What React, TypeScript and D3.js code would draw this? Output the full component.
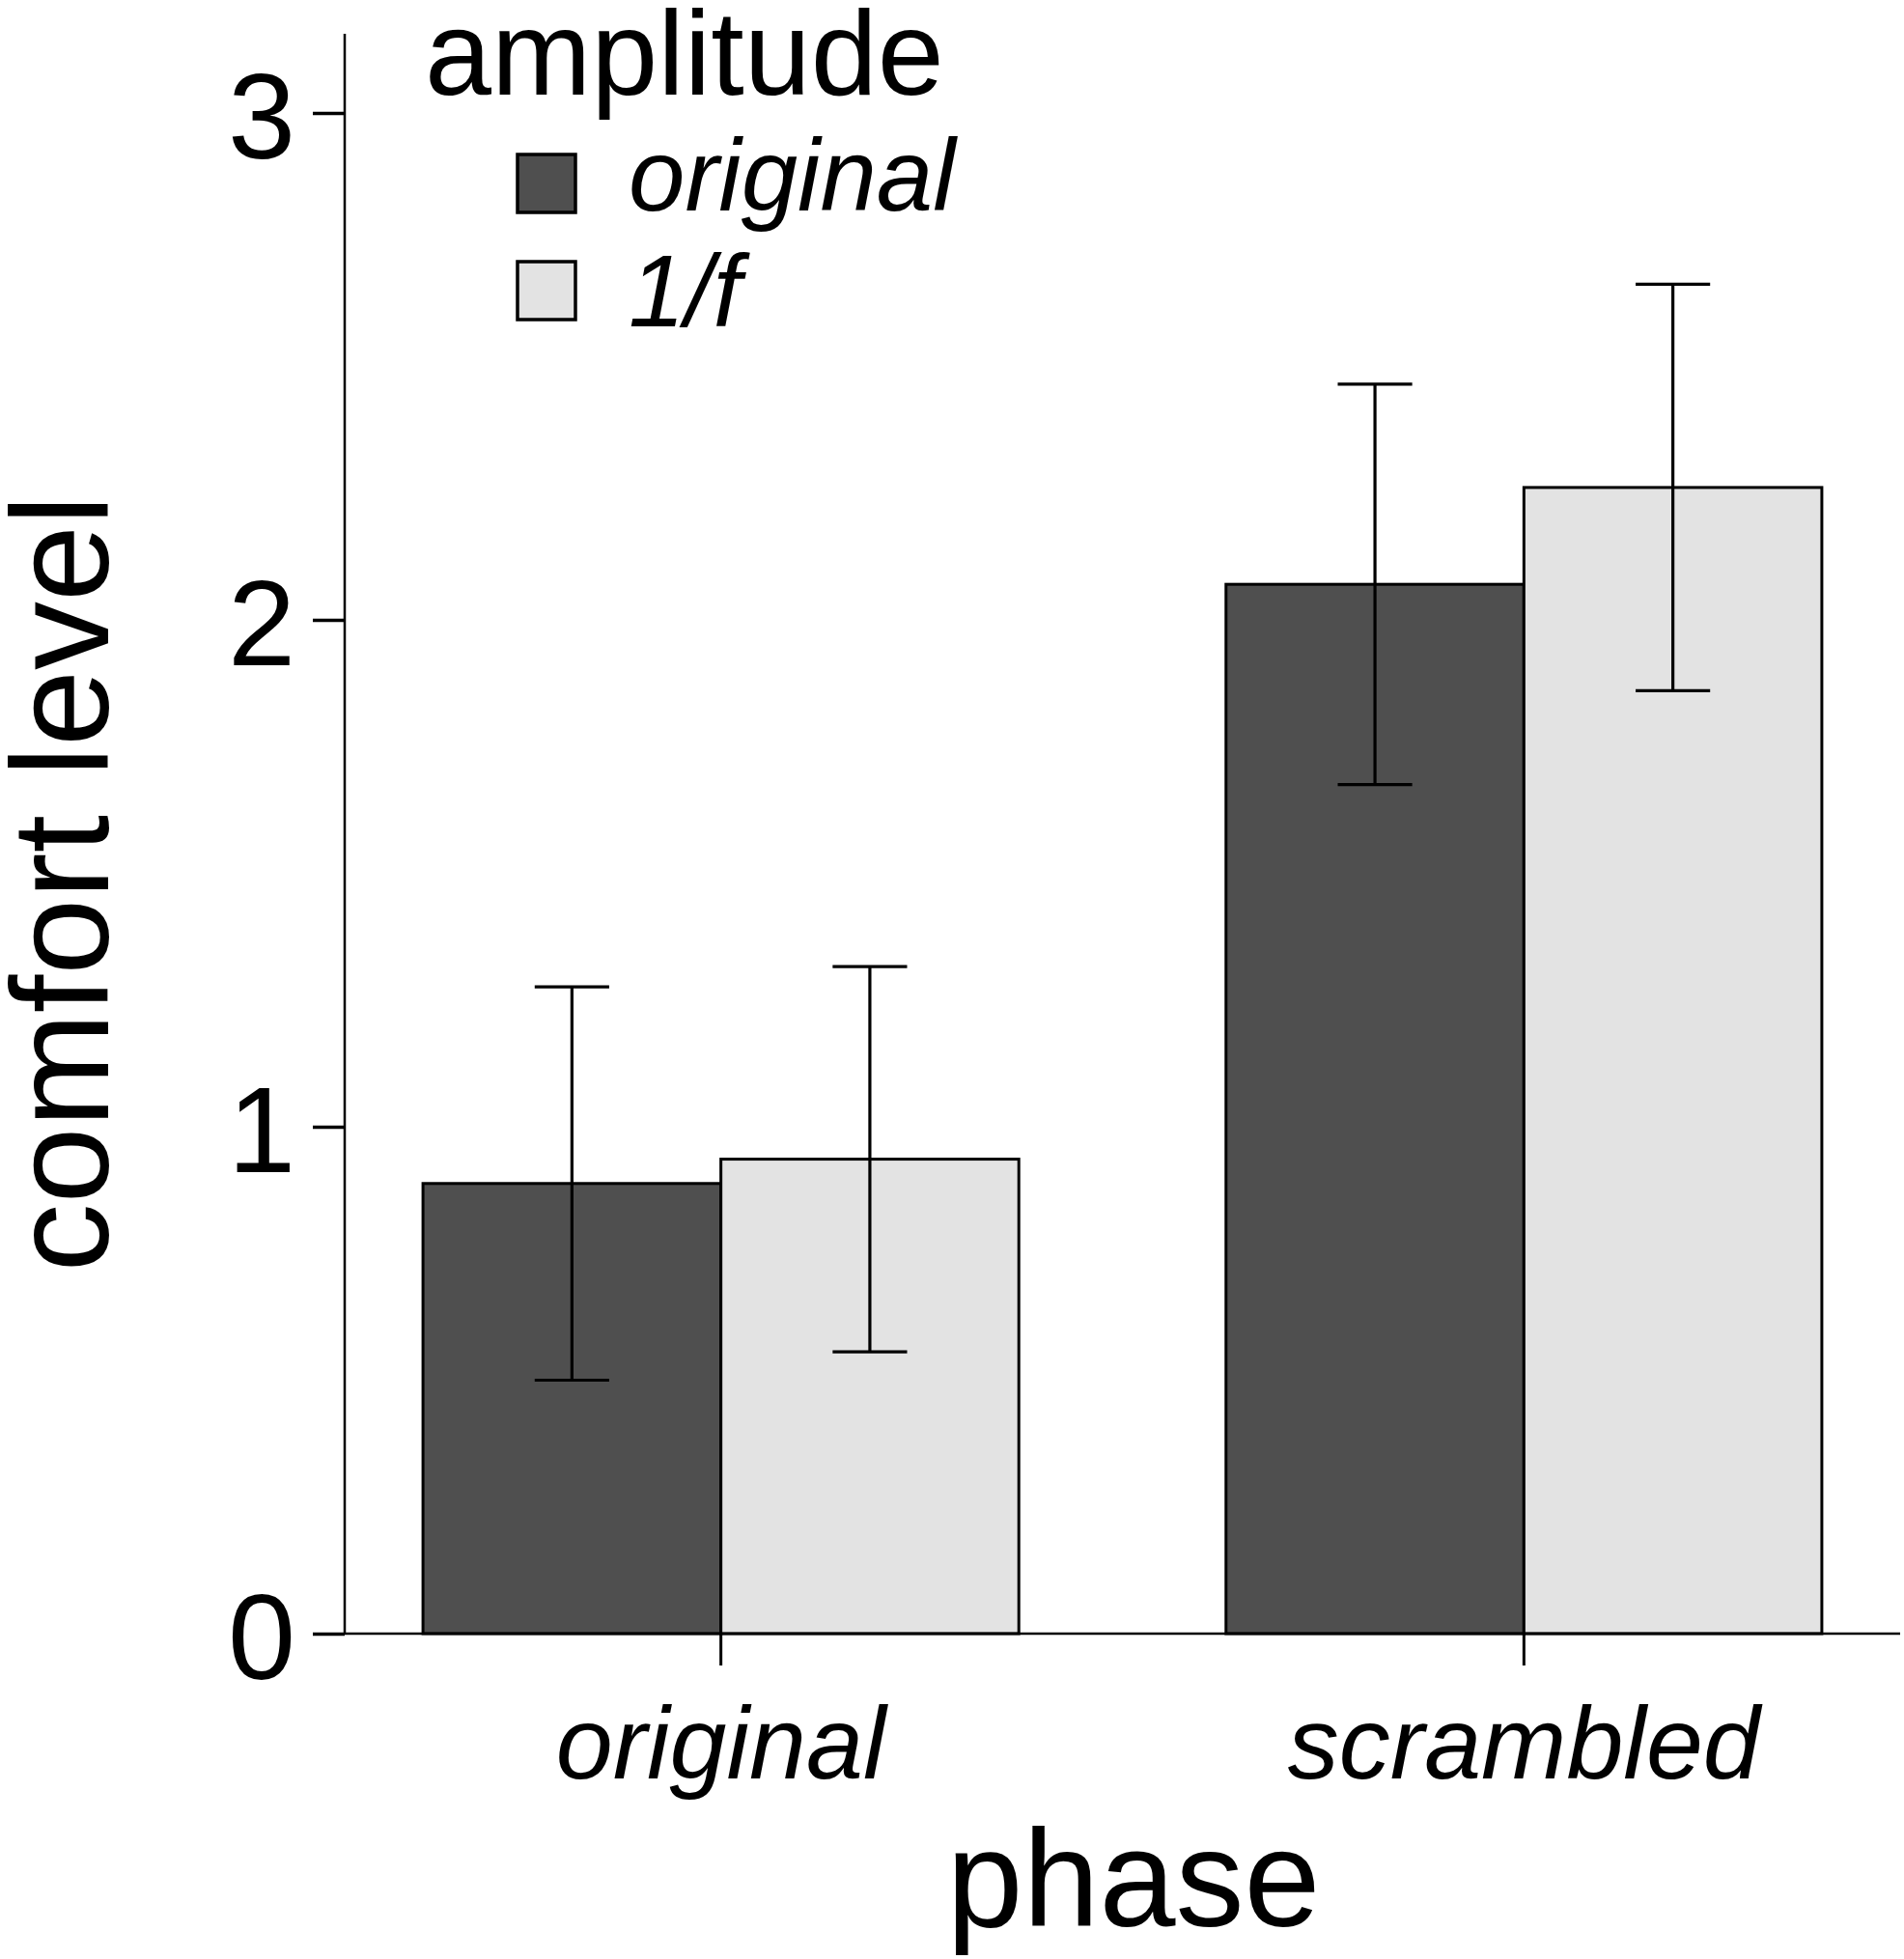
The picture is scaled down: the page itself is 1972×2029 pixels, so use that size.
import React, { useEffect, useRef } from 'react';
import * as d3 from 'd3';

// phase categories on the x axis, amplitude types as the two bar series
const phases = ['original', 'scrambled'];
const amplitudes = ['original', '1/f'];
const meanOriginalAmp = [0.888, 2.07];
const mean1fAmp = [0.936, 2.261];
const errOriginalAmp = [0.388, 0.395];
const err1fAmp = [0.38, 0.401];
const yTicks = [0, 1, 2, 3];

const colors: Record<string, string> = { original: '#4f4f4f', '1/f': '#e3e3e3' };
const FONT = '"Liberation Sans", Arial, sans-serif';

interface Bar {
  phase: string;
  amp: string;
  mean: number;
  err: number;
}

const App: React.FC = () => {
  const svgRef = useRef<SVGSVGElement | null>(null);

  useEffect(() => {
    if (!svgRef.current) return;
    const width = 1972;
    const height = 2029;
    const margin = { top: 35, right: 4, bottom: 337, left: 357 };

    const svg = d3.select(svgRef.current);
    svg.selectAll('*').remove();
    svg.attr('width', width).attr('height', height).attr('viewBox', `0 0 ${width} ${height}`);

    const bars: Bar[] = [];
    phases.forEach((p, i) => {
      bars.push({ phase: p, amp: 'original', mean: meanOriginalAmp[i], err: errOriginalAmp[i] });
      bars.push({ phase: p, amp: '1/f', mean: mean1fAmp[i], err: err1fAmp[i] });
    });

    const x0 = d3.scaleBand<string>()
      .domain(phases)
      .range([margin.left, width - margin.right])
      .paddingInner(0.258)
      .paddingOuter(0.0975);

    const x1 = d3.scaleBand<string>()
      .domain(amplitudes)
      .range([0, x0.bandwidth()]);

    const y = d3.scaleLinear()
      .domain([0, 3.156])
      .range([height - margin.bottom, margin.top]);

    const chart = svg.append('g');

    // Bars
    chart.selectAll('rect.bar')
      .data(bars)
      .enter()
      .append('rect')
      .attr('class', 'bar')
      .attr('x', d => x0(d.phase)! + x1(d.amp)!)
      .attr('y', d => y(d.mean))
      .attr('width', x1.bandwidth())
      .attr('height', d => y(0) - y(d.mean))
      .attr('fill', d => colors[d.amp])
      .attr('stroke', '#000')
      .attr('stroke-width', 3);

    // Error bars
    const capW = x1.bandwidth() * 0.25;
    const err = chart.selectAll('g.err')
      .data(bars)
      .enter()
      .append('g')
      .attr('class', 'err')
      .attr('stroke', '#000')
      .attr('stroke-width', 3.2);
    const cx = (d: Bar) => x0(d.phase)! + x1(d.amp)! + x1.bandwidth() / 2;
    err.append('line')
      .attr('x1', cx).attr('x2', cx)
      .attr('y1', d => y(d.mean + d.err)).attr('y2', d => y(d.mean - d.err));
    err.append('line')
      .attr('x1', d => cx(d) - capW / 2).attr('x2', d => cx(d) + capW / 2)
      .attr('y1', d => y(d.mean + d.err)).attr('y2', d => y(d.mean + d.err));
    err.append('line')
      .attr('x1', d => cx(d) - capW / 2).attr('x2', d => cx(d) + capW / 2)
      .attr('y1', d => y(d.mean - d.err)).attr('y2', d => y(d.mean - d.err));

    // Y axis
    const yAxis = chart.append('g')
      .attr('transform', `translate(${margin.left}, 0)`)
      .call(d3.axisLeft(y).tickValues(yTicks).tickFormat(d3.format('d')).tickSize(33).tickSizeOuter(0).tickPadding(18));
    yAxis.select('.domain').attr('stroke', '#000').attr('stroke-width', 2.5)
      .attr('d', `M0,${y(0)}V${margin.top}`);
    yAxis.selectAll('.tick line').attr('stroke', '#000').attr('stroke-width', 3.5);
    yAxis.selectAll('.tick text')
      .attr('font-family', FONT)
      .attr('font-size', 126)
      .attr('fill', '#000')
      .attr('dy', '0.37em');

    // X axis
    const xAxis = chart.append('g')
      .attr('transform', `translate(0, ${y(0)})`)
      .call(d3.axisBottom(x0).tickSize(33).tickSizeOuter(0).tickPadding(50));
    xAxis.select('.domain').attr('stroke', '#000').attr('stroke-width', 2.5)
      .attr('d', `M${margin.left},0H${width - margin.right}`);
    xAxis.selectAll('.tick line').attr('stroke', '#000').attr('stroke-width', 3);
    xAxis.selectAll('.tick text')
      .attr('font-family', FONT)
      .attr('font-size', 106)
      .attr('font-style', 'italic')
      .attr('fill', '#000')
      .attr('dy', null)
      .attr('y', 1842 - y(0));

    // Axis titles
    svg.append('text')
      .attr('x', 1174)
      .attr('y', 1995)
      .attr('text-anchor', 'middle')
      .attr('font-family', FONT)
      .attr('font-size', 142)
      .text('phase');

    svg.append('text')
      .attr('transform', `translate(112, 915) rotate(-90)`)
      .attr('text-anchor', 'middle')
      .attr('font-family', FONT)
      .attr('font-size', 142)
      .text('comfort level');

    // Legend
    const legend = svg.append('g');
    legend.append('text')
      .attr('x', 440)
      .attr('y', 98)
      .attr('font-family', FONT)
      .attr('font-size', 124)
      .text('amplitude');

    const items = legend.selectAll('g.item')
      .data(amplitudes)
      .enter()
      .append('g')
      .attr('class', 'item')
      .attr('transform', (_d, i) => `translate(0, ${i * 111})`);
    items.append('rect')
      .attr('x', 536)
      .attr('y', 160)
      .attr('width', 60)
      .attr('height', 60)
      .attr('fill', d => colors[d])
      .attr('stroke', '#000')
      .attr('stroke-width', 3.5);
    items.append('text')
      .attr('x', 651)
      .attr('y', (_d, i) => (i === 0 ? 218 : 227))
      .attr('font-family', FONT)
      .attr('font-size', 105)
      .attr('font-style', 'italic')
      .text(d => d);
  }, []);

  return (
    <div style={{ position: 'absolute', left: 0, top: 0, background: '#fff' }}>
      <svg ref={svgRef} style={{ display: 'block' }} />
    </div>
  );
};

export default App;
